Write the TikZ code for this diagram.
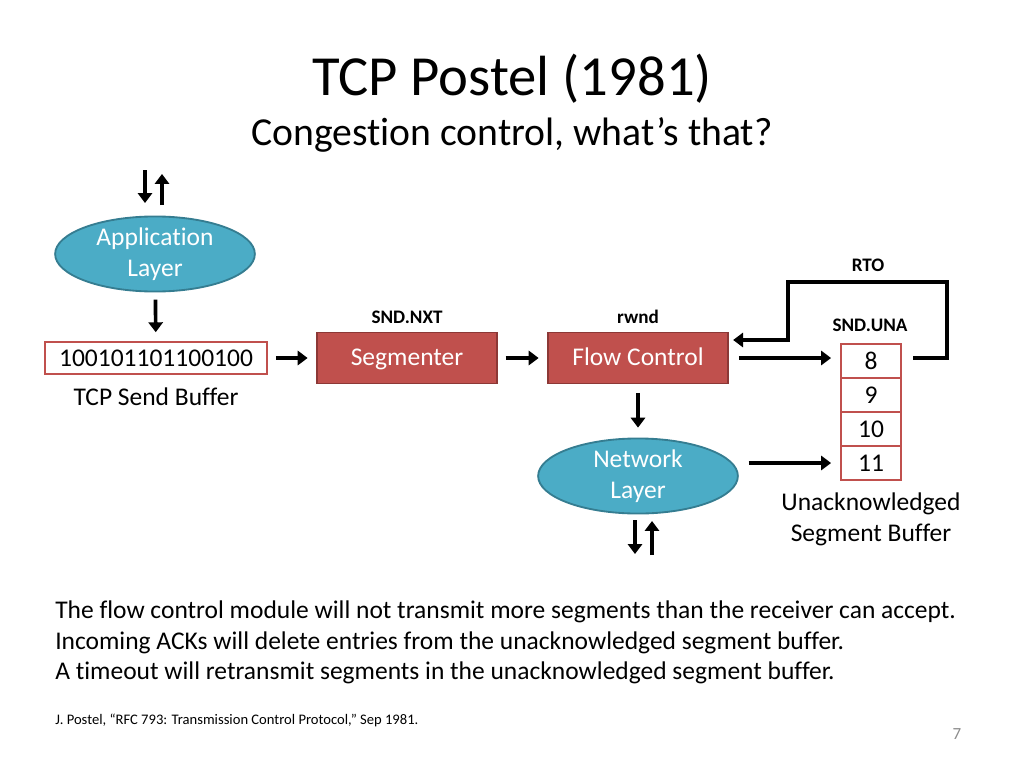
\documentclass[tikz,border=0pt]{standalone}
\usepackage{fontspec}
\setmainfont{Carlito}[Ligatures=NoCommon]
\usepackage{xcolor}
\usetikzlibrary{arrows.meta,shapes.geometric}

\definecolor{aquafill}{HTML}{4BACC6}
\definecolor{aquaedge}{HTML}{357D91}
\definecolor{redfill}{HTML}{C0504D}
\definecolor{rededge}{HTML}{8C3836}
\definecolor{pagegray}{HTML}{8C8C8C}

\tikzset{
	layer/.style={ellipse,draw=aquaedge,fill=aquafill,line width=1.3pt,
		minimum width=141pt,minimum height=53pt,inner sep=0pt,
		text=white,align=center,font=\fontsize{18}{21.6}\selectfont},
	module/.style={rectangle,draw=rededge,fill=redfill,line width=1.3pt,
		minimum width=127pt,minimum height=36pt,text height=12.5pt,text depth=1.3pt,
		text=white,font=\fontsize{18}{21.6}\selectfont},
	bufbox/.style={rectangle,draw=redfill,fill=white,line width=1.4pt,
		minimum width=157pt,minimum height=23pt,inner sep=0pt,
		font=\fontsize{18}{21.6}\selectfont},
	cell/.style={rectangle,draw=redfill,fill=white,line width=1.4pt,
		minimum width=43pt,minimum height=24pt,inner sep=0pt,
		font=\fontsize{18}{21.6}\selectfont},
	tag/.style={font=\fontsize{13.5}{16}\selectfont\bfseries},
	plain/.style={font=\fontsize{18}{21.6}\selectfont,align=center},
	arr/.style={-{Triangle[length=7pt,width=10pt]},line width=2.6pt},
}

\begin{document}
\begin{tikzpicture}[x=0.024805cm,y=-0.024805cm]
		\useasboundingbox (0,0) rectangle (1024,768);
		%
		\node[anchor=base] (title) at (512,95) {\fontsize{40}{48}\selectfont TCP Postel (1981)};
		\node[anchor=base] (subtitle) at (512,145) {\fontsize{28}{33}\selectfont Congestion control, what’s that?};
		%
		\node[layer] (app) at (155,254) {Application\\Layer};
		\node[bufbox] (sendbuf) at (156,358) {100101101100100};
		\node[plain] (sendlbl) at (156,397) {TCP Send Buffer};
		\node[module] (seg) at (407,358) {Segmenter};
		\node[module] (fc) at (638,358) {Flow Control};
		\node[layer] (net) at (638,476) {Network\\Layer};
		\node[tag] (sndnxt) at (407,317) {SND.NXT};
		\node[tag] (rwnd) at (638,317) {rwnd};
		\node[tag] (rto) at (868,265) {RTO};
		\node[tag] (snduna) at (870,325) {SND.UNA};
		\foreach \n/\y in {8/361,9/395,10/429,11/463}
			\node[cell] (c\n) at (871,\y) {\n};
		\node[plain,font=\fontsize{18}{22}\selectfont] (unacklbl) at (871,519) {Unacknowledged\\Segment Buffer};
		%
		\coordinate (appdn1) at (145,170);
		\coordinate (appdn2) at (145,203);
		\coordinate (appup1) at (162,205);
		\coordinate (appup2) at (162,174);
		\coordinate (netdn1) at (635,520);
		\coordinate (netdn2) at (635,554);
		\coordinate (netup1) at (652,555);
		\coordinate (netup2) at (652,521);
		\coordinate (rto1) at (913,358);
		\coordinate (rto2) at (947,282);
		\coordinate (rto3) at (788,340);
		%
		\draw[arr] (appdn1) -- (appdn2);
		\draw[arr] (appup1) -- (appup2);
		\draw[arr] (netdn1) -- (netdn2);
		\draw[arr] (netup1) -- (netup2);
		\draw[arr,shorten <=5pt,shorten >=6pt] (app) -- (sendbuf);
		\draw[arr,shorten <=5.5pt,shorten >=6pt] (sendbuf) -- (seg);
		\draw[arr,shorten <=5.5pt,shorten >=6pt] (seg) -- (fc);
		\draw[arr,shorten <=6pt,shorten >=7pt] (fc) -- (net);
		\draw[arr,shorten <=7pt,shorten >=6pt] (fc.east) -- (fc.east -| c8.west);
		\draw[arr,shorten <=7pt,shorten >=6pt] (net.east |- c11) -- (c11.west);
		\draw[arr,line join=miter,shorten >=3pt] (rto1) -| (rto2) -| (rto3) -- (rto3 -| fc.east);
		%
		\node[anchor=north west,align=left,inner sep=0pt,font=\fontsize{18}{21.3}\selectfont] (body) at (55,601)
			{The flow control module will not transmit more segments than the receiver can accept.\\
			Incoming ACKs will delete entries from the unacknowledged segment buffer.\\
			A timeout will retransmit segments in the unacknowledged segment buffer.};
		\node[anchor=base west,inner sep=0pt,font=\fontsize{10.3}{12}\selectfont] (cite) at (55,724)
			{J. Postel, “RFC 793: Transmission Control Protocol,” Sep 1981.};
		\node[anchor=base,text=pagegray,font=\fontsize{12}{14}\selectfont] (page) at (957,739) {7};
	\end{tikzpicture}
\end{document}
